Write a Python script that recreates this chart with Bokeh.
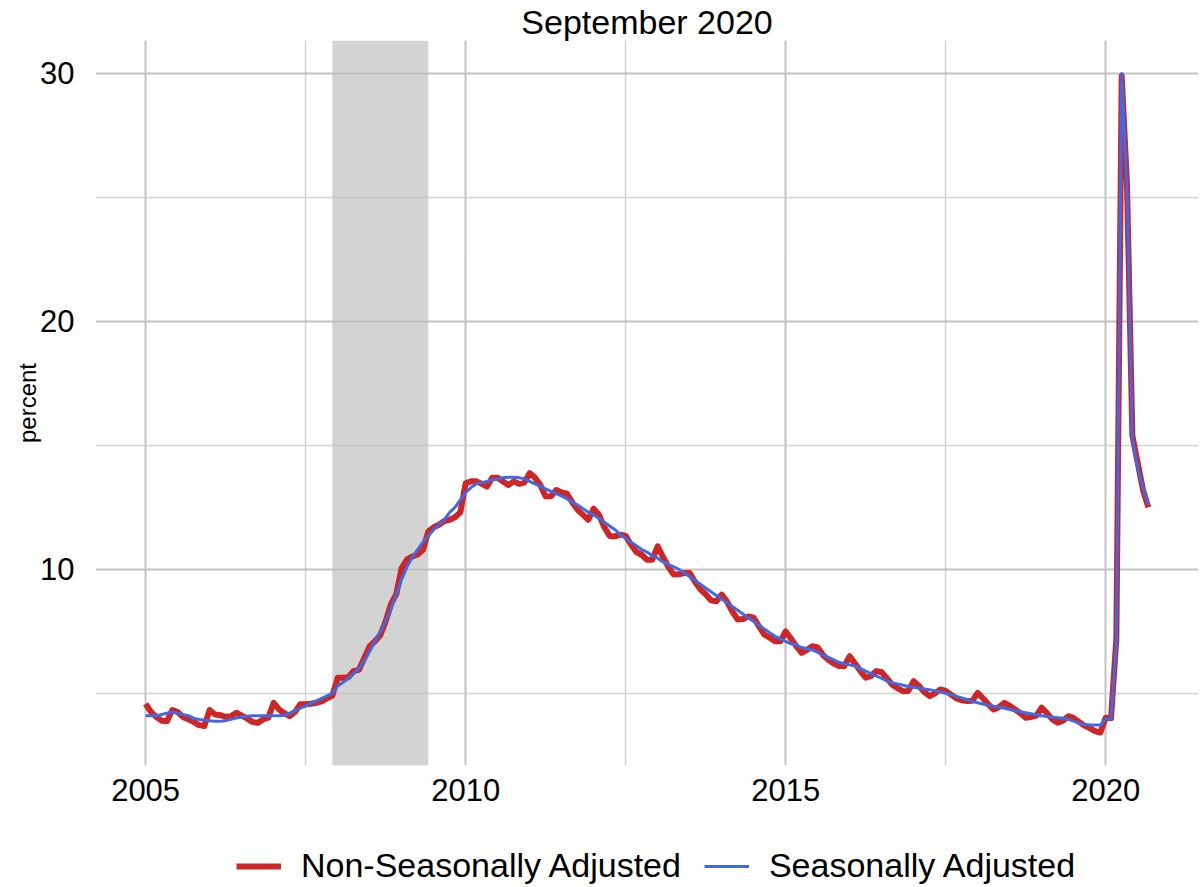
from bokeh.plotting import figure
from bokeh.layouts import column
from bokeh.models import Range1d, FixedTicker, BoxAnnotation, Legend, LegendItem, ColumnDataSource
from bokeh.embed import file_html
from bokeh.resources import INLINE

# ---------------- data (monthly, Jan 2005 .. Sep 2020) ----------------
START_YEAR = 2005
TITLE = "September 2020"
Y_LABEL = "percent"
NSA_LABEL = "Non-Seasonally Adjusted"
SA_LABEL = "Seasonally Adjusted"

nsa = [
    4.58, 4.25, 4.05, 3.90, 3.88, 4.33, 4.25, 4.05, 3.95, 3.85, 3.72, 3.68,      # 2005
    4.33, 4.15, 4.12, 4.05, 4.08, 4.22, 4.10, 3.99, 3.85, 3.81, 3.95, 4.02,      # 2006
    4.62, 4.35, 4.20, 4.08, 4.25, 4.56, 4.56, 4.58, 4.62, 4.68, 4.80, 4.90,      # 2007
    5.63, 5.63, 5.65, 5.90, 5.95, 6.43, 6.90, 7.10, 7.35, 7.90, 8.60, 9.00,      # 2008
    10.05, 10.40, 10.52, 10.60, 10.79, 11.53, 11.70, 11.80, 11.95, 12.00, 12.10, 12.30,  # 2009
    13.47, 13.55, 13.55, 13.45, 13.34, 13.70, 13.70, 13.54, 13.40, 13.55, 13.45, 13.50,  # 2010
    13.88, 13.70, 13.40, 12.94, 12.95, 13.20, 13.10, 13.05, 12.70, 12.40, 12.20, 12.00,  # 2011
    12.45, 12.20, 11.70, 11.35, 11.33, 11.40, 11.35, 11.00, 10.70, 10.59, 10.39, 10.39,  # 2012
    10.93, 10.50, 10.10, 9.79, 9.80, 9.85, 9.85, 9.50, 9.20, 9.00, 8.75, 8.71,   # 2013
    8.98, 8.70, 8.30, 7.98, 8.00, 8.10, 8.05, 7.70, 7.37, 7.25, 7.10, 7.10,      # 2014
    7.50, 7.20, 6.90, 6.63, 6.75, 6.90, 6.85, 6.55, 6.35, 6.20, 6.10, 6.10,      # 2015
    6.50, 6.20, 5.90, 5.63, 5.70, 5.90, 5.85, 5.60, 5.35, 5.20, 5.09, 5.10,      # 2016
    5.49, 5.30, 5.05, 4.89, 5.00, 5.16, 5.10, 4.95, 4.80, 4.72, 4.69, 4.70,      # 2017
    5.02, 4.80, 4.55, 4.35, 4.45, 4.62, 4.50, 4.35, 4.20, 4.02, 4.05, 4.10,      # 2018
    4.42, 4.20, 3.95, 3.82, 3.90, 4.08, 4.00, 3.85, 3.70, 3.60, 3.48, 3.42,      # 2019
    4.02, 4.00, 7.20, 29.90, 25.50, 15.40, 14.30, 13.20, 12.50,                  # 2020
]

sa = [
    4.10, 4.10, 4.10, 4.15, 4.20, 4.25, 4.20, 4.15, 4.10, 4.00, 3.95, 3.92,      # 2005
    3.90, 3.88, 3.88, 3.90, 3.95, 4.00, 4.05, 4.08, 4.10, 4.10, 4.10, 4.10,      # 2006
    4.10, 4.10, 4.12, 4.20, 4.30, 4.40, 4.50, 4.60, 4.70, 4.80, 4.90, 5.00,      # 2007
    5.30, 5.45, 5.60, 5.80, 6.00, 6.30, 6.70, 7.10, 7.50, 7.90, 8.40, 9.00,      # 2008
    9.60, 10.10, 10.50, 10.80, 11.10, 11.35, 11.60, 11.80, 12.00, 12.30, 12.50, 12.80,   # 2009
    13.10, 13.30, 13.45, 13.50, 13.55, 13.60, 13.65, 13.70, 13.72, 13.72, 13.70, 13.65,  # 2010
    13.55, 13.45, 13.35, 13.25, 13.15, 13.05, 12.95, 12.85, 12.70, 12.60, 12.45, 12.30,  # 2011
    12.20, 12.05, 11.90, 11.75, 11.60, 11.40, 11.25, 11.10, 10.95, 10.80, 10.70, 10.55,  # 2012
    10.45, 10.30, 10.20, 10.10, 10.00, 9.85, 9.70, 9.55, 9.40, 9.25, 9.10, 8.95, # 2013
    8.80, 8.65, 8.50, 8.35, 8.20, 8.05, 7.90, 7.75, 7.60, 7.45, 7.30, 7.20,      # 2014
    7.10, 7.00, 6.95, 6.85, 6.80, 6.75, 6.65, 6.55, 6.45, 6.35, 6.25, 6.20,      # 2015
    6.15, 6.10, 6.00, 5.90, 5.80, 5.70, 5.60, 5.50, 5.42, 5.38, 5.33, 5.28,      # 2016
    5.25, 5.22, 5.18, 5.15, 5.10, 5.05, 5.00, 4.95, 4.88, 4.82, 4.75, 4.68,      # 2017
    4.62, 4.57, 4.52, 4.48, 4.44, 4.40, 4.35, 4.30, 4.26, 4.22, 4.18, 4.14,      # 2018
    4.10, 4.07, 4.04, 4.02, 4.00, 3.95, 3.88, 3.80, 3.74, 3.72, 3.72, 3.72,      # 2019
    3.98, 3.98, 7.00, 30.00, 25.30, 15.30, 14.10, 13.30, 12.60,                  # 2020
]

recession = [(2007, 12), (2009, 6)]          # shaded recession (start, end)
x_ticks = [2005, 2010, 2015, 2020]
x_minor = [2007.5, 2012.5, 2017.5]
y_ticks = [10, 20, 30]
y_minor = [5, 15, 25]

NSA_COLOR = "#CD2626"
SA_COLOR = "#4169E1"

# ---------------- derived ----------------
t = [START_YEAR + i / 12 for i in range(len(sa))]
src = ColumnDataSource(dict(t=t, nsa=nsa, sa=sa))

def expand(lo, hi, f=0.05):
    d = (hi - lo) * f
    return lo - d, hi + d

x_lo, x_hi = expand(min(t), max(t))
y_lo, y_hi = expand(min(min(nsa), min(sa)), max(max(nsa), max(sa)))

FONT = "Liberation Sans"

# ---------------- main chart ----------------
p = figure(frame_width=1103, frame_height=725, output_backend="svg", toolbar_location=None,
           x_range=Range1d(x_lo, x_hi), y_range=Range1d(y_lo, y_hi),
           min_border_left=95, min_border_right=5, min_border_top=38, min_border_bottom=57)
p.outline_line_color = None
p.background_fill_color = "white"

p.title.text = TITLE
p.title.align = "center"
p.title.text_font = FONT
p.title.text_font_size = "34px"
p.title.text_font_style = "normal"
p.title.text_color = "black"
p.title.standoff = 0

xt = FixedTicker(ticks=x_ticks, minor_ticks=x_minor)
yt = FixedTicker(ticks=y_ticks, minor_ticks=y_minor)
p.xaxis.ticker = xt
p.yaxis.ticker = yt
p.xgrid.ticker = xt
p.ygrid.ticker = yt

for ax in (p.xaxis, p.yaxis):
    ax.axis_line_color = None
    ax.major_tick_line_color = None
    ax.minor_tick_line_color = None
    ax.major_label_text_font = FONT
    ax.major_label_text_font_size = "31px"
    ax.major_label_text_color = "black"
p.xaxis.major_label_standoff = 7
p.yaxis.major_label_standoff = 15
p.yaxis.axis_label = Y_LABEL
p.yaxis.axis_label_text_font = FONT
p.yaxis.axis_label_text_font_size = "24px"
p.yaxis.axis_label_text_font_style = "normal"
p.yaxis.axis_label_text_color = "black"
p.yaxis.axis_label_standoff = -4

for g in (p.xgrid, p.ygrid):
    g.grid_line_color = "#C2C2C2"
    g.grid_line_width = 2
    g.minor_grid_line_color = "#D2D2D2"
    g.minor_grid_line_width = 1.5

rs = recession[0][0] + (recession[0][1] - 1) / 12
re_ = recession[1][0] + (recession[1][1] - 1) / 12
p.add_layout(BoxAnnotation(left=rs, right=re_, fill_color="#BEBEBE", fill_alpha=0.68,
                           line_color=None, level="underlay"))

p.line("t", "nsa", source=src, line_color=NSA_COLOR, line_width=6, line_join="round")
p.line("t", "sa", source=src, line_color=SA_COLOR, line_width=3, line_join="round")

# ---------------- legend strip (below the chart, like ggplot's bottom legend) ----------------
# Same series drawn again in a strip whose ranges exclude the data, so only the legend shows.
pl = figure(width=1203, height=65, output_backend="svg", toolbar_location=None,
            x_range=Range1d(0, 1), y_range=Range1d(0, 1),
            x_axis_type=None, y_axis_type=None, min_border=0)
pl.outline_line_color = None
pl.background_fill_color = "white"
k1 = pl.line("t", "nsa", source=src, line_color=NSA_COLOR, line_width=6)
k2 = pl.line("t", "sa", source=src, line_color=SA_COLOR, line_width=3)
legend = Legend(items=[LegendItem(label=NSA_LABEL, renderers=[k1]),
                       LegendItem(label=SA_LABEL, renderers=[k2])],
                orientation="horizontal", location=(141, 2), padding=0, margin=0,
                spacing=23, glyph_width=45, glyph_height=20, label_standoff=20,
                label_text_font=FONT, label_text_font_size="34px", label_text_color="black",
                border_line_color=None, background_fill_alpha=0)
pl.add_layout(legend)

page = column(p, pl, spacing=0)
open("out.html", "w").write(file_html(page, INLINE))
